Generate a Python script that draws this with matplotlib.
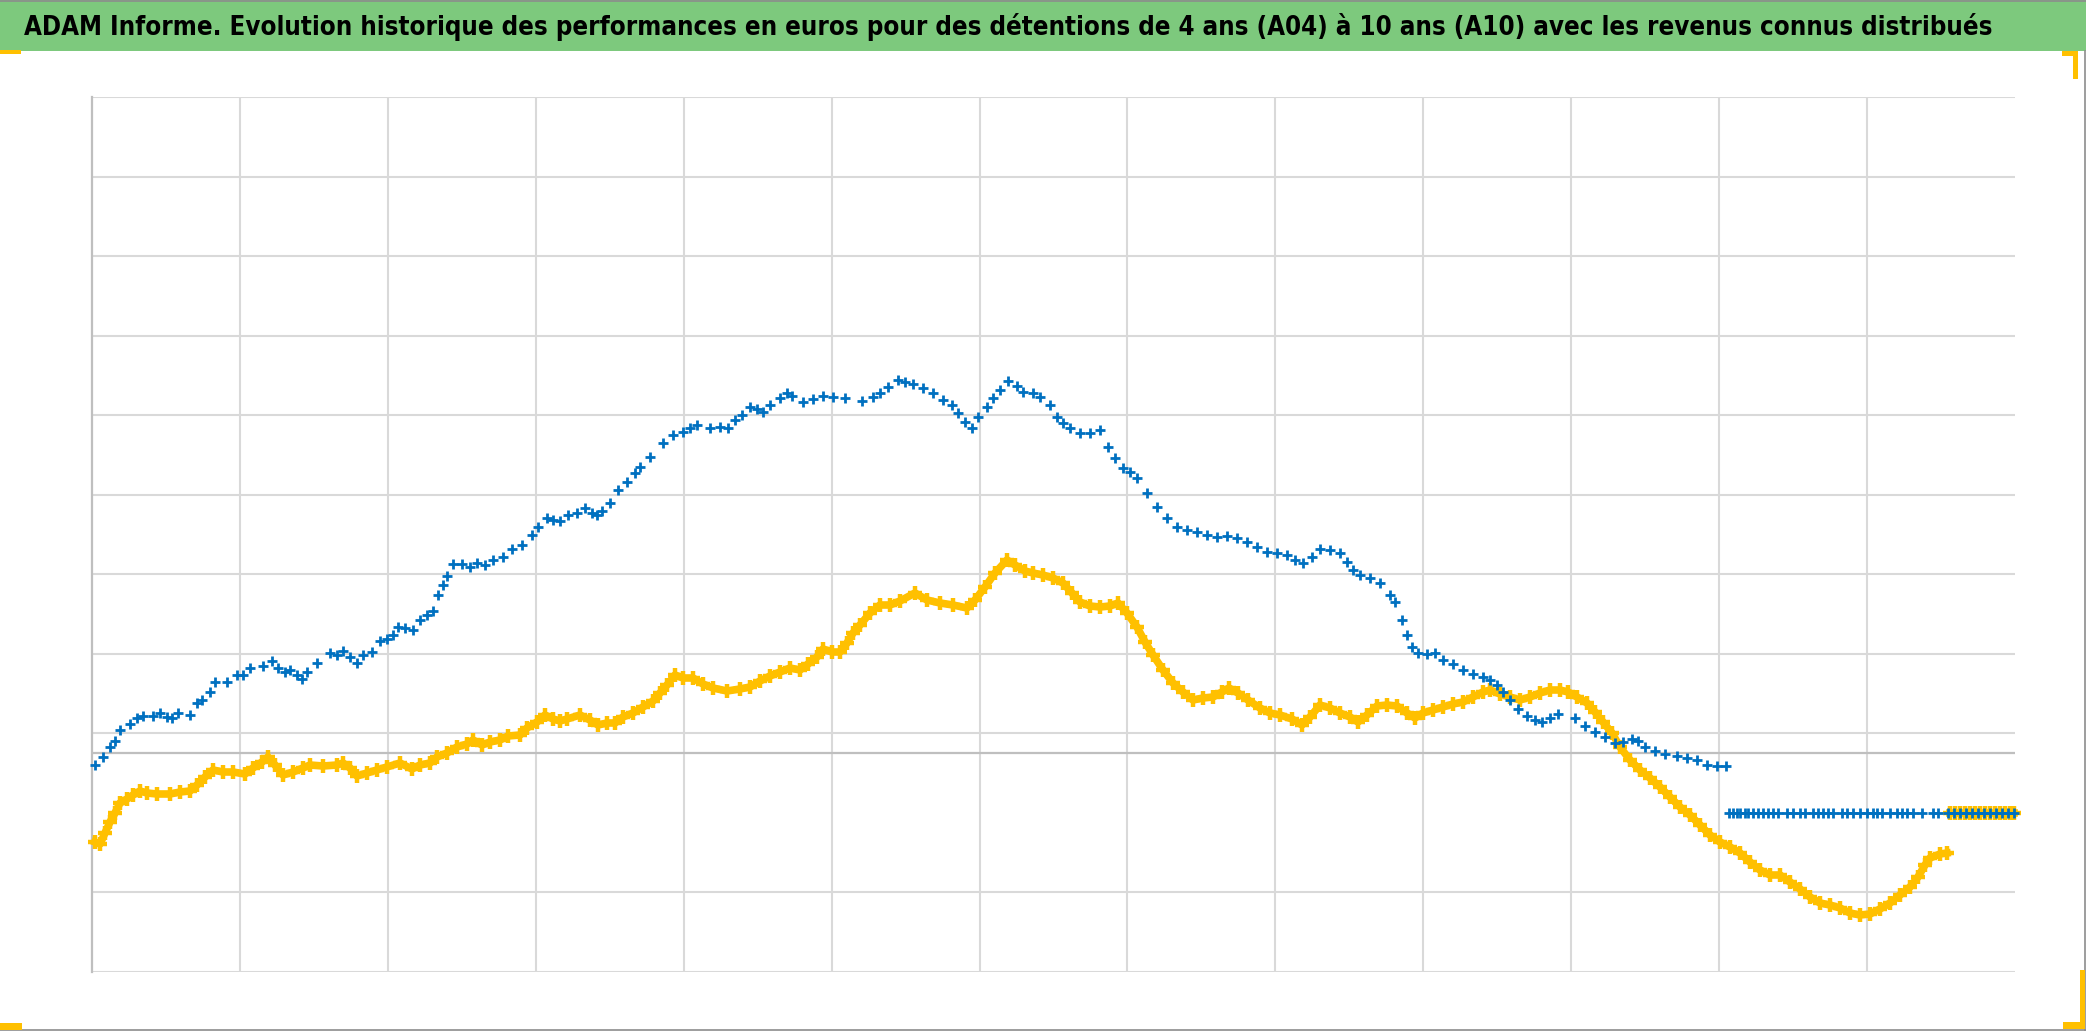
import matplotlib
matplotlib.use("Agg")
import matplotlib.pyplot as plt
from matplotlib.patches import Rectangle
from matplotlib.lines import Line2D
from matplotlib import font_manager as fm

# ---------------- data ----------------
titre = ("ADAM Informe. Evolution historique des performances en euros pour des "
         "détentions de 4 ans (A04) à 10 ans (A10) avec les revenus connus distribués")

bleu_x = [3, 11, 18, 23, 28, 38, 45, 51, 61, 68, 75, 80, 86, 98, 105, 110, 118, 123, 135, 145,
          151, 158, 171, 180, 186, 193, 198, 205, 210, 215, 225, 238, 245, 251, 258, 265, 271, 280,
          288, 295, 301, 306, 313, 321, 328, 335, 341, 346, 351, 355, 361, 370, 378, 385, 393, 401,
          411, 420, 430, 440, 446, 455, 461, 468, 476, 485, 493, 500, 505, 510, 518, 526, 535, 543,
          548, 558, 571, 581, 591, 598, 605, 618, 628, 636, 643, 650, 658, 665, 671, 678, 688, 695,
          700, 711, 721, 731, 741, 753, 770, 781, 788, 796, 806, 813, 821, 831, 841, 851, 860, 866,
          873, 880, 886, 895, 901, 908, 916, 925, 931, 941, 948, 958, 965, 971, 978, 988, 998, 1008,
          1016, 1023, 1031, 1038, 1045, 1055, 1065, 1075, 1085, 1095, 1105, 1115, 1125, 1135, 1145,
          1155, 1165, 1175, 1185, 1195, 1203, 1211, 1220, 1228, 1238, 1248, 1255, 1261, 1268, 1278,
          1288, 1298, 1303, 1310, 1315, 1320, 1326, 1335, 1343, 1351, 1361, 1371, 1381, 1391, 1398,
          1405, 1411, 1418, 1426, 1435, 1443, 1450, 1458, 1466, 1483, 1493, 1503, 1513, 1523, 1531,
          1540, 1546, 1553, 1563, 1573, 1585, 1595, 1605, 1615, 1625, 1634]
bleu_y = [-12, -4, 6, 12, 23, 29, 35, 37, 37, 40, 36, 35, 40, 38, 50, 53, 61, 71, 71, 78,
          78, 85, 87, 92, 85, 81, 83, 78, 74, 81, 90, 100, 98, 102, 96, 90, 98, 101,
          112, 114, 118, 126, 125, 123, 133, 138, 142, 158, 168, 177, 189, 189, 186, 190, 188, 193,
          196, 204, 208, 218, 226, 235, 233, 232, 238, 240, 245, 240, 238, 242, 250, 263, 271, 280,
          286, 296, 310, 318, 321, 325, 328, 325, 326, 325, 333, 338, 346, 344, 341, 348, 355, 360,
          357, 351, 354, 357, 356, 355, 352, 356, 360, 366, 373, 371, 369, 365, 360, 353, 348, 340,
          331, 325, 336, 346, 355, 363, 372, 367, 361, 360, 356, 348, 336, 330, 325, 320, 320, 323,
          306, 295, 285, 281, 275, 260, 246, 235, 226, 223, 221, 218, 216, 217, 215,
          211, 206, 201, 200, 198, 193, 190, 196, 204, 203, 200, 191, 183, 178, 175,
          170, 158, 151, 133, 118, 106, 100, 99, 100, 93, 89, 83, 79, 76, 73,
          68, 61, 53, 44, 37, 33, 31, 35, 39, 35, 27, 21, 16, 10, 11,
          14, 12, 6, 2, -1, -3, -5, -7, -12, -13, -13]

# trailing placeholder values (flat level) of the blue series
bleu_fin_x = [1637, 1641, 1645, 1648, 1653, 1656, 1661, 1666, 1671, 1676, 1681, 1686, 1695, 1701,
              1708, 1713, 1721, 1726, 1731, 1736, 1741, 1750, 1755, 1761, 1768, 1775, 1781, 1785,
              1790, 1798, 1805, 1810, 1815, 1821, 1830, 1841, 1846, 1856, 1862, 1868, 1874, 1880,
              1886, 1892, 1898, 1904, 1910, 1916, 1922]
bleu_fin_y = [-60] * len(bleu_fin_x)

jaune_x = [3, 8, 13, 18, 23, 28, 35, 41, 48, 55, 65, 78, 88, 98, 105, 113, 121, 131, 141, 153,
           161, 170, 176, 183, 191, 201, 211, 218, 231, 245, 251, 258, 265, 275, 285, 295, 308, 320,
           328, 338, 345, 355, 365, 375, 381, 390, 398, 408, 416, 428, 435, 445, 453, 461, 468, 475,
           488, 498, 506, 515, 523, 531, 541, 551, 561, 568, 575, 583, 591, 601, 611, 621, 635, 648,
           658, 668, 678, 688, 698, 708, 716, 725, 731, 740, 748, 755, 761, 768, 778, 788, 798, 808,
           823, 835, 848, 861, 875, 883, 893, 903, 915, 923, 933, 941, 951, 961, 971, 980, 988, 998,
           1008, 1018, 1026, 1035, 1045, 1053, 1061, 1071, 1081, 1091, 1101, 1111, 1121, 1130, 1137,
           1146, 1156, 1168, 1178, 1188, 1200, 1210, 1218, 1228, 1238, 1248, 1258, 1266, 1275, 1285,
           1295, 1305, 1315, 1323, 1331, 1341, 1351, 1361, 1371, 1381, 1391, 1398, 1408, 1418, 1428,
           1438, 1448, 1458, 1468, 1476, 1485, 1495, 1503, 1511, 1520, 1528, 1538, 1548, 1558, 1568,
           1578, 1588, 1598, 1608, 1618, 1628, 1638, 1648, 1658, 1668, 1678, 1688, 1698, 1708, 1718,
           1728, 1738, 1748, 1758, 1768, 1778, 1788, 1798, 1808, 1818, 1826, 1833, 1838, 1848, 1855]
jaune_y = [-89, -91, -80, -69, -60, -50, -46, -42, -38, -40, -41, -41, -39, -38, -32, -24, -17, -19, -19, -21,
           -15, -9, -4, -12, -22, -19, -15, -12, -13, -12, -10, -15, -23, -20, -17, -14, -10, -16,
           -12, -10, -4, 0, 6, 9, 13, 8, 11, 13, 17, 18, 25, 31, 38, 34, 32, 34,
           38, 33, 28, 30, 30, 36, 40, 46, 52, 60, 68, 78, 75, 75, 69, 65, 62, 64,
           66, 72, 77, 81, 85, 83, 89, 96, 104, 101, 101, 110, 120, 128, 140, 148, 148, 152,
           160, 153, 150, 148, 145, 153, 166, 180, 193, 188, 182, 180, 178, 175, 170, 160, 151, 147,
           146, 147, 150, 140, 126, 111, 98, 83, 70, 61, 53, 55, 56, 61, 65,
           60, 53, 45, 40, 38, 34, 28, 36, 48, 45, 40, 36, 31, 38, 47,
           48, 47, 40, 35, 40, 43, 46, 49, 51, 56, 61, 63, 59, 56, 53,
           56, 60, 63, 63, 61, 56, 50, 41, 31, 20, 6, -7, -17, -25, -34,
           -44, -54, -62, -72, -82, -89, -94, -100, -109, -117, -122, -122, -129, -136, -144,
           -150, -152, -155, -160, -162, -161, -156, -150, -142, -134, -124, -112, -105, -101, -100]

# trailing placeholder values (flat level) of the yellow series
jaune_fin_x = [1858, 1863, 1868, 1873, 1878, 1883, 1888, 1893, 1898, 1903, 1908, 1913, 1918, 1922]
jaune_fin_y = [-60] * len(jaune_fin_x)

# axis frame (no labels are shown in the chart)
x_min, x_max, n_vgrid = 0, 1923, 13
y_min, y_max, y_step = -218.7, 656.0, 79.5
missing_gridline = 9          # 10th line from the top is not drawn in the original

# ---------------- styles ----------------
W, H, DPI = 2086, 1031, 100
BLUE = "#0070C0"
GOLD = "#FFC000"
GRID = "#D9D9D9"
AXIS = "#BFBFBF"
BANNER = "#7DC97D"

fig = plt.figure(figsize=(W / DPI, H / DPI), dpi=DPI)
fig.patch.set_facecolor("white")

# green title banner
fig.patches.append(Rectangle((0, 1 - 51 / H), 1, 51 / H, transform=fig.transFigure,
                             facecolor=BANNER, edgecolor="none", zorder=0))
fig.add_artist(Line2D([0, 1], [1 - 1 / H, 1 - 1 / H], transform=fig.transFigure,
                      color="#8C8C8C", lw=1.2))

# pick a narrow bold face if one is installed (closest to Calibri Bold)
title_fp = None
for fe in fm.fontManager.ttflist:
    nm = fe.name.lower()
    narrow = ("narrow" in nm or "condensed" in nm or
              str(fe.stretch).lower() in ("condensed", "semi-condensed", "extra-condensed"))
    boldish = (str(fe.weight).lower() in ("bold", "700", "semibold", "600")
               or fe.weight in (600, 700))
    if narrow and boldish and fe.style == "normal":
        title_fp = fm.FontProperties(fname=fe.fname)
        break
if title_fp is None:
    title_fp = fm.FontProperties(family=["Roboto", "DejaVu Sans"], weight="bold")

t = fig.text(24 / W, 1 - 27 / H, titre, ha="left", va="center",
             fontproperties=title_fp, color="black")
t.set_fontsize(24)
fig.canvas.draw()
w = t.get_window_extent().width
t.set_fontsize(24 * (1968 / w))

# plot area
ax = fig.add_axes([92 / W, 1 - 971.7 / H, (2015 - 92) / W, (971.7 - 97) / H])
ax.set_xlim(x_min, x_max)
ax.set_ylim(y_min, y_max)
for s in ("top", "right", "bottom"):
    ax.spines[s].set_visible(False)
ax.spines["left"].set_color(AXIS)
ax.spines["left"].set_linewidth(1.6)
ax.set_xticks([])
ax.set_yticks([])

step_x = (x_max - x_min) / n_vgrid
for k in range(1, n_vgrid):
    ax.axvline(x_min + k * step_x, color=GRID, lw=1.5, zorder=0)
for k in range(0, 12):
    if k == missing_gridline:
        continue
    ax.axhline(y_max - k * y_step, color=GRID, lw=1.5, zorder=0)
ax.axhline(0, color=AXIS, lw=1.6, zorder=1)

# yellow series: very dense '+' markers forming a thick band
ax.plot(jaune_x, jaune_y, ls="-", lw=5.5, marker="+", ms=10, mew=3.2, color=GOLD,
        zorder=3, clip_on=False)
ax.plot(jaune_fin_x, jaune_fin_y, ls="-", lw=5.5, marker="+", ms=10, mew=3.2, color=GOLD,
        zorder=3, clip_on=False)
# blue series
ax.plot(bleu_x, bleu_y, ls="none", marker="+", ms=7.5, mew=2.0, color=BLUE, zorder=4,
        clip_on=False)
ax.plot(bleu_fin_x, bleu_fin_y, ls="none", marker="+", ms=7.5, mew=2.0, color=BLUE, zorder=4,
        clip_on=False)

# screenshot frame: grey border and yellow selection handles
fig.add_artist(Line2D([1 - 1 / W, 1 - 1 / W], [0, 1 - 51 / H], transform=fig.transFigure,
                      color="#8C8C8C", lw=1.2))
fig.add_artist(Line2D([0, 1], [1 / H, 1 / H], transform=fig.transFigure,
                      color="#8C8C8C", lw=1.2))
handles = [(0, 50, 21, 4), (2062, 51, 16, 5), (2073, 51, 5, 28),
           (0, 1023, 22, 7), (2080, 970, 5, 55), (2063, 1022, 22, 7)]
for (hx, hy, hw, hh) in handles:
    fig.patches.append(Rectangle((hx / W, 1 - (hy + hh) / H), hw / W, hh / H,
                                 transform=fig.transFigure, facecolor=GOLD,
                                 edgecolor="none", zorder=5))

fig.savefig("out.png", dpi=DPI)
